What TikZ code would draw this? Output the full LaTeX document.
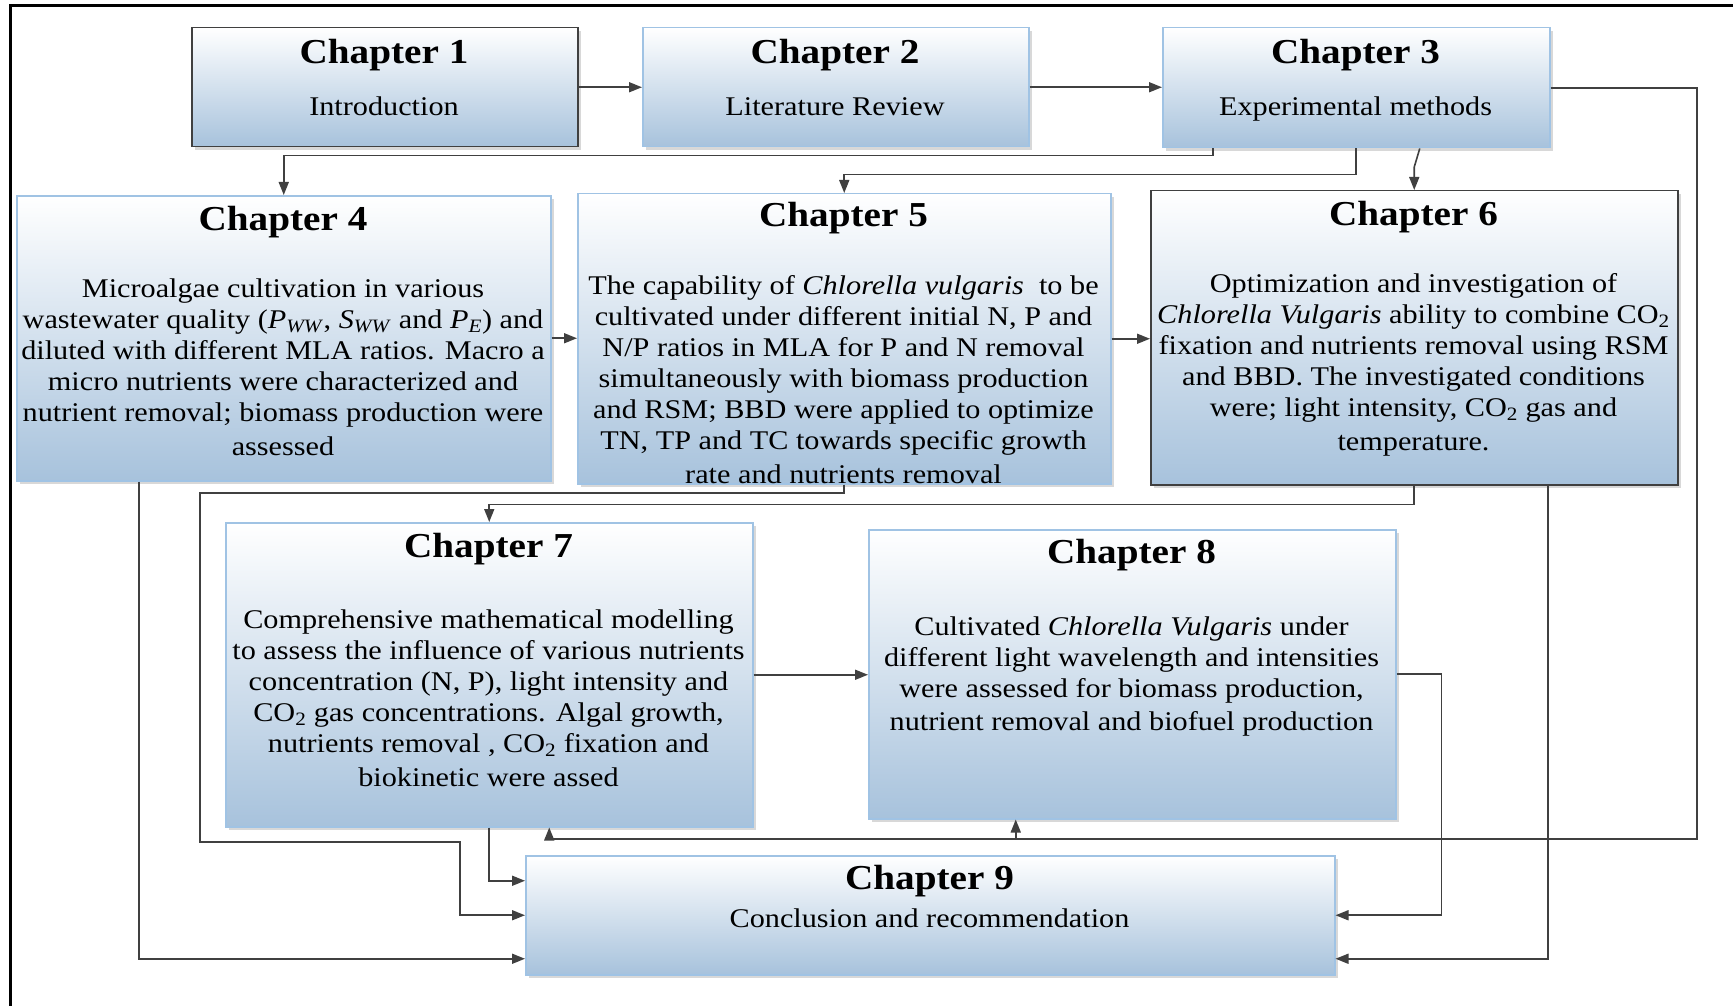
\documentclass[tikz,border=0pt]{standalone}
\usepackage{fontspec}
\setmainfont{Liberation Serif}[FakeStretch=1.12]
\usetikzlibrary{arrows.meta,shadows,calc}
\definecolor{boxblue}{RGB}{167,194,220}
\definecolor{lineblue}{RGB}{160,195,228}
\definecolor{darkline}{RGB}{64,64,64}
\definecolor{conncol}{RGB}{64,64,64}
\begin{document}
\begin{tikzpicture}[x=1pt,y=-1pt,
  chbox/.style={draw=lineblue, line width=1.5pt, top color=white, bottom color=boxblue,
    drop shadow={shadow xshift=3pt,shadow yshift=-3pt,opacity=0.25,fill=black!60},
    inner sep=0pt, anchor=north west},
  darkbox/.style={chbox, draw=darkline},
  ttl/.style={font=\fontsize{35}{40}\selectfont\bfseries, inner sep=0pt},
  sub/.style={font=\fontsize{27}{31}\selectfont, inner sep=0pt, anchor=base},
  body/.style={font=\fontsize{27}{31}\selectfont, align=center, inner sep=0pt},
  conn/.style={draw=conncol, line width=1.6pt, -{Triangle[length=13pt,width=10pt]}},
  frame/.style={draw=black, line width=3pt}
]
\useasboundingbox (0,0) rectangle (1733,1006);
\fill[white] (0,0) rectangle (1733,1006);
\draw[frame] (10,1006) -- (10,6) -- (1733,6);

% boxes
\node[darkbox, minimum width=386pt, minimum height=119pt] (ch1) at (191,27) {};
\node[chbox, minimum width=386pt, minimum height=119pt] (ch2) at (642,27) {};
\node[chbox, minimum width=387pt, minimum height=120pt] (ch3) at (1162,27) {};
\node[chbox, minimum width=534pt, minimum height=285pt] (ch4) at (16,195) {};
\node[chbox, minimum width=533pt, minimum height=290pt] (ch5) at (577,193) {};
\node[darkbox, minimum width=527pt, minimum height=294pt] (ch6) at (1150,190) {};
\node[chbox, minimum width=527pt, minimum height=304pt] (ch7) at (225,522) {};
\node[chbox, minimum width=527pt, minimum height=289pt] (ch8) at (868,529) {};
\node[chbox, minimum width=809pt, minimum height=119pt] (ch9) at (525,855) {};

% texts
\node[ttl] (ch1t) at (384,55) {Chapter 1};
\node[sub] (ch1s) at (384,116) {Introduction};
\node[ttl] (ch2t) at (835,55) {Chapter 2};
\node[sub] (ch2s) at (835,116) {Literature Review};
\node[ttl] (ch3t) at (1355.5,55) {Chapter 3};
\node[sub] (ch3s) at (1355.5,116) {Experimental methods};

\node[ttl] (ch4t) at (283,222) {Chapter 4};
\node[body] (ch4b) at (283,367) {Microalgae cultivation in various\\
wastewater quality (\textit{P}\textsubscript{\textit{WW}}, \textit{S}\textsubscript{\textit{WW}} and \textit{P}\textsubscript{\textit{E}}) and\\
diluted with different MLA ratios. Macro a\\
micro nutrients were characterized and\\
nutrient removal; biomass production were\\[3pt]
assessed};

\node[ttl] (ch5t) at (843.5,218) {Chapter 5};
\node[body] (ch5b) at (843.5,380) {The capability of \textit{Chlorella vulgaris}\ \ to be\\
cultivated under different initial N, P and\\
N/P ratios in MLA for P and N removal\\
simultaneously with biomass production\\
and RSM; BBD were applied to optimize\\
TN, TP and TC towards specific growth\\[3pt]
rate and nutrients removal};

\node[ttl] (ch6t) at (1413.5,217) {Chapter 6};
\node[body] (ch6b) at (1413.5,364.5) {Optimization and investigation of\\
\textit{Chlorella Vulgaris} ability to combine CO\textsubscript{2}\\
fixation and nutrients removal using RSM\\
and BBD. The investigated conditions\\
were; light intensity, CO\textsubscript{2} gas and\\[3pt]
temperature.};

\node[ttl] (ch7t) at (488.5,549) {Chapter 7};
\node[body] (ch7b) at (488.5,698) {Comprehensive mathematical modelling\\
to assess the influence of various nutrients\\
concentration (N, P), light intensity and\\
CO\textsubscript{2} gas concentrations. Algal growth,\\
nutrients removal , CO\textsubscript{2} fixation and\\[3pt]
biokinetic were assed};

\node[ttl] (ch8t) at (1131.5,555) {Chapter 8};
\node[body] (ch8b) at (1131.5,677) {Cultivated \textit{Chlorella Vulgaris} under\\
different light wavelength and intensities\\
were assessed for biomass production,\\[2pt]
nutrient removal and biofuel production};

\node[ttl] (ch9t) at (929.5,881) {Chapter 9};
\node[sub] (ch9s) at (929.5,927) {Conclusion and recommendation};

% connectors
\draw[conn] (ch1.east) -- (ch1.east -| ch2.west);
\draw[conn] (ch2.east) -- (ch2.east -| ch3.west);
\draw[conn] ([xshift=51pt]ch3.south west) -- ++(0,7) -| (ch4.north);
\draw[conn] (ch3.south) -- ++(0,26) -| (ch5.north);
\draw[conn] ([xshift=63.5pt]ch3.south) -- ($(ch6.north)+(0,-23)$) -- (ch6.north);
\coordinate (busR) at (1697,839);
\draw[conn] (ch3.east) -| (busR) -| ([xshift=60pt]ch7.south);
\draw[conn] ([xshift=-116.5pt]ch8.south |- busR) -- ([xshift=-116.5pt]ch8.south);
\draw[conn] (ch4.east) -- (ch4.east -| ch5.west);
\draw[conn] (ch5.east) -- (ch5.east -| ch6.west);
\draw[conn] (ch7.east) -- (ch7.east -| ch8.west);
\draw[conn] ([xshift=123pt]ch4.south west) |- ([yshift=-43.5pt]ch9.west);
\draw[conn] (ch5.south) |- (200,493) |- (460,842) |- (ch9.west);
\draw[conn] (ch6.south) -- ++(0,19) -| (ch7.north);
\draw[conn] ([xshift=398pt]ch6.south west) |- ([yshift=-43.5pt]ch9.east);
\draw[conn] (ch7.south) |- ([yshift=34.5pt]ch9.west);
\draw[conn] (ch8.east) -| ([xshift=106pt]ch9.east) -- (ch9.east);
\end{tikzpicture}
\end{document}
